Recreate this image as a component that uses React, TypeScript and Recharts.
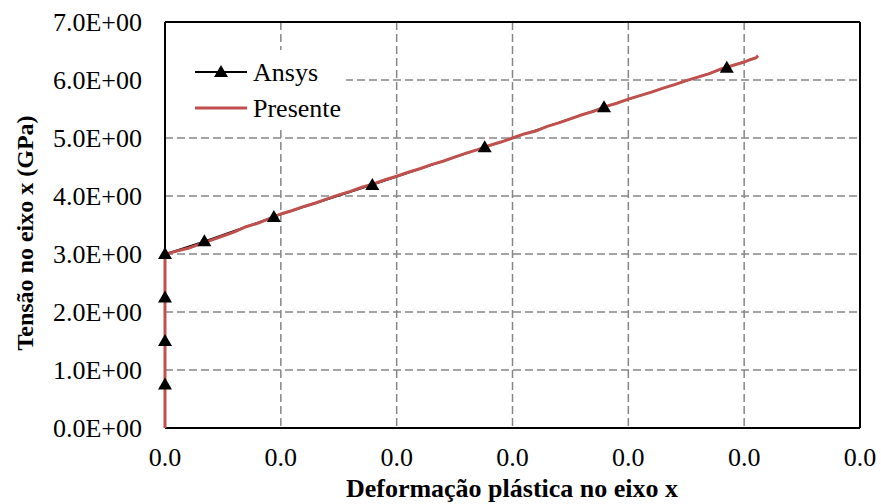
import React from "react";
import {
  LineChart,
  Line,
  XAxis,
  YAxis,
  CartesianGrid,
  ReferenceLine,
} from "recharts";

const FONT = '"Liberation Serif", "Times New Roman", serif';
const RED = "#C0504D";

// Ansys: deformação (x) x tensão (GPa)
const ansysX = [0, 0, 0, 0, 0.0034, 0.0094, 0.0179, 0.0276, 0.0379, 0.0485];
const ansysY = [0.75, 1.5, 2.25, 3.0, 3.22, 3.64, 4.19, 4.84, 5.53, 6.21];

// Presente
const presX = [
  0, 0, 0.0005, 0.001, 0.002, 0.003, 0.004, 0.005, 0.006, 0.007, 0.008, 0.009,
  0.01, 0.011, 0.012, 0.013, 0.014, 0.015, 0.016, 0.017, 0.018, 0.019, 0.02,
  0.021, 0.022, 0.023, 0.024, 0.025, 0.026, 0.027, 0.028, 0.029, 0.03, 0.031,
  0.032, 0.033, 0.034, 0.035, 0.036, 0.037, 0.038, 0.039, 0.04, 0.041, 0.042,
  0.043, 0.044, 0.045, 0.046, 0.047, 0.048, 0.049, 0.05, 0.0505, 0.051, 0.0512,
];
const presY = [
  0, 3.0, 3.02, 3.05, 3.1, 3.17, 3.24, 3.31, 3.38, 3.47, 3.53, 3.61, 3.69,
  3.75, 3.82, 3.88, 3.95, 4.02, 4.08, 4.15, 4.21, 4.28, 4.34, 4.41, 4.47, 4.54,
  4.6, 4.67, 4.74, 4.8, 4.87, 4.93, 5.0, 5.07, 5.12, 5.2, 5.26, 5.33, 5.4,
  5.46, 5.54, 5.6, 5.67, 5.73, 5.79, 5.86, 5.92, 5.99, 6.05, 6.11, 6.19, 6.25,
  6.31, 6.35, 6.38, 6.42,
];

const xTicks = [0, 0.01, 0.02, 0.03, 0.04, 0.05, 0.06];
const yTicks = [0, 1, 2, 3, 4, 5, 6, 7];

const ansysData = ansysX.map((x, i) => ({ x, y: ansysY[i] }));
const presData = presX.map((x, i) => ({ x, y: presY[i] }));

function Triangle(props: any) {
  const { cx, cy } = props;
  if (cx == null || cy == null) return null;
  return (
    <polygon
      points={`${cx - 7},${cy + 5} ${cx + 7},${cy + 5} ${cx},${cy - 7}`}
      fill="#000"
    />
  );
}

function LegendBox() {
  return (
    <svg
      width={180}
      height={78}
      style={{ position: "absolute", left: 166, top: 50, background: "#fff" }}
    >
      <line x1={29} y1={22} x2={81} y2={22} stroke="#000" strokeWidth={2} />
      <polygon points="48,27 62,27 55,15" fill="#000" />
      <text x={87} y={22} dominantBaseline="central" fontFamily={FONT} fontSize={26}>
        Ansys
      </text>
      <line x1={29} y1={58} x2={81} y2={58} stroke={RED} strokeWidth={3} />
      <text x={87} y={58} dominantBaseline="central" fontFamily={FONT} fontSize={26}>
        Presente
      </text>
    </svg>
  );
}

const tickStyle = { fontFamily: FONT, fontSize: 26, fill: "#000" };

export default function App() {
  return (
    <div
      style={{
        position: "fixed",
        left: 0,
        top: 0,
        width: 881,
        height: 504,
        background: "#fff",
        fontFamily: FONT,
      }}
    >
      <LineChart
        width={881}
        height={504}
        margin={{ top: 22, right: 21, left: 0, bottom: 0 }}
        style={{ fontFamily: FONT }}
      >
        <CartesianGrid stroke="#868686" strokeDasharray="8 4" strokeWidth={1.5} />
        <XAxis
          dataKey="x"
          type="number"
          domain={[0, 0.06]}
          ticks={xTicks}
          tickFormatter={(v: number) => (Math.floor(v * 10) / 10).toFixed(1)}
          tickLine={false}
          tickMargin={14}
          height={76}
          axisLine={{ stroke: "#000", strokeWidth: 2 }}
          tick={{ ...tickStyle, style: tickStyle }}
          label={{
            content: () => (
              <text
                x={512}
                y={497}
                textAnchor="middle"
                fontFamily={FONT}
                fontSize={26}
                fontWeight="bold"
              >
                Deformação plástica no eixo x
              </text>
            ),
          }}
        />
        <YAxis
          dataKey="y"
          type="number"
          domain={[0, 7]}
          ticks={yTicks}
          tickFormatter={(v: number) => v.toFixed(1) + "E+00"}
          tickLine={false}
          tickMargin={17}
          width={165}
          axisLine={{ stroke: "#000", strokeWidth: 2 }}
          tick={{ ...tickStyle, style: tickStyle }}
          label={{
            content: () => (
              <text
                x={25}
                y={233}
                transform="rotate(-90 25 233)"
                textAnchor="middle"
                dominantBaseline="central"
                fontFamily={FONT}
                fontSize={24}
                fontWeight="bold"
              >
                Tensão no eixo x (GPa)
              </text>
            ),
          }}
        />
        <ReferenceLine y={7} stroke="#000" strokeWidth={2} />
        <ReferenceLine x={0.06} stroke="#000" strokeWidth={2} />
        <Line
          data={ansysData}
          dataKey="y"
          name="Ansys"
          stroke="#000"
          strokeWidth={1.5}
          dot={<Triangle />}
          activeDot={false}
          isAnimationActive={false}
          zIndex={550}
        />
        <Line
          data={presData}
          dataKey="y"
          name="Presente"
          stroke={RED}
          strokeWidth={3}
          dot={false}
          activeDot={false}
          isAnimationActive={false}
          zIndex={600}
        />
      </LineChart>
      <LegendBox />
    </div>
  );
}
